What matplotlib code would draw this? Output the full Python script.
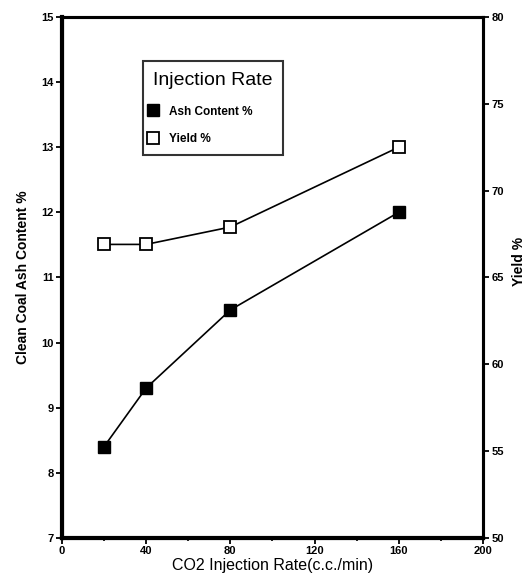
import matplotlib
matplotlib.use("Agg")
import matplotlib.pyplot as plt
from matplotlib.ticker import MultipleLocator

# Data
injection_rate = [20, 40, 80, 160]
ash_content = [8.4, 9.3, 10.5, 12.0]
yield_pct = [66.9, 66.9, 67.9, 72.5]

x_ticks = [0, 40, 80, 120, 160, 200]
left_ticks = [7, 8, 9, 10, 11, 12, 13, 14, 15]
right_ticks = [50, 55, 60, 65, 70, 75, 80]

plt.rcParams['font.family'] = ['Liberation Sans', 'DejaVu Sans']

fig = plt.figure(figsize=(5.29, 5.84), dpi=100)
ax = fig.add_axes([0.117, 0.079, 0.796, 0.892])
ax2 = ax.twinx()

l1, = ax.plot(injection_rate, ash_content, color='black', lw=1.2, marker='s',
              markersize=8, markerfacecolor='black', markeredgecolor='black',
              label='Ash Content %')
l2, = ax2.plot(injection_rate, yield_pct, color='black', lw=1.2, marker='s',
               markersize=8, markerfacecolor='white', markeredgecolor='black',
               markeredgewidth=1.3, label='Yield %')

ax.set_xlim(0, 200)
ax.set_ylim(7, 15)
ax2.set_ylim(50, 80)
ax.set_xticks(x_ticks)
ax.xaxis.set_minor_locator(MultipleLocator(20))
ax.set_yticks(left_ticks)
ax2.set_yticks(right_ticks)

for a in (ax, ax2):
    for s in a.spines.values():
        s.set_linewidth(2.2)
ax.spines['left'].set_linewidth(3.0)
ax.spines['bottom'].set_linewidth(3.0)

ax.tick_params(axis='both', which='major', direction='out', length=4, width=1.3,
               labelsize=8, pad=2)
ax.tick_params(axis='x', which='minor', direction='out', length=2.5, width=1.2)
ax2.tick_params(axis='y', direction='out', length=4, width=1.3, labelsize=8, pad=2)
for lab in ax.get_xticklabels() + ax.get_yticklabels() + ax2.get_yticklabels():
    lab.set_fontweight('bold')

ax.set_xlabel('CO2 Injection Rate(c.c./min)', fontsize=11.5, labelpad=1)
ax.set_ylabel('Clean Coal Ash Content %', fontsize=10, fontweight='bold', labelpad=8)
ax2.set_ylabel('Yield %', fontsize=10, fontweight='bold', rotation=90)
ax2.yaxis.set_label_coords(1.07, 0.53)

leg = ax.legend(handles=[l1, l2], title='Injection Rate', loc='upper left',
                bbox_to_anchor=(0.192, 0.915), frameon=True, fancybox=False,
                edgecolor='black', handlelength=0.0, handletextpad=1.3,
                borderpad=0.9, labelspacing=1.3, prop={'size': 8.5, 'weight': 'bold'},
                title_fontsize=14, borderaxespad=0)
leg.get_frame().set_linewidth(1.5)
leg._legend_box.align = 'left'
leg._legend_box.sep = 12
for h in leg.legend_handles:
    h.set_linestyle('none')

fig.savefig('out.png', dpi=100)
